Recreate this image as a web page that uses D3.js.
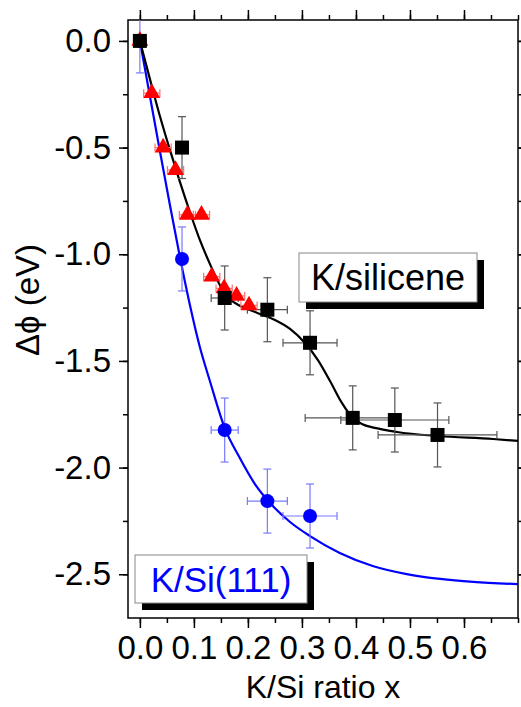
<!DOCTYPE html>
<html>
<head>
<meta charset="utf-8">
<script src="https://cdn.jsdelivr.net/npm/d3@7"></script>
<style>
  body { margin: 0; background: #fff; }
  text { font-family: "Liberation Sans", Arial, sans-serif; }
</style>
</head>
<body>
<div id="graph"></div>
<script>
// K/silicene (black squares)
const sil_x   = [0, 0.078, 0.157, 0.236, 0.315, 0.394, 0.472, 0.551];
const sil_y   = [0, -0.50, -1.205, -1.26, -1.415, -1.767, -1.777, -1.847];
const sil_xe  = [0, 0, 0.025, 0.037, 0.05, 0.088, 0.10, 0.11];
const sil_ye  = [0, 0.145, 0.15, 0.15, 0.15, 0.15, 0.15, 0.15];

// red triangles
const tri_x = [0, 0.022, 0.043, 0.066, 0.088, 0.114, 0.133, 0.156, 0.179, 0.202];
const tri_y = [0, -0.245, -0.50, -0.605, -0.815, -0.815, -1.105, -1.16, -1.195, -1.24];
const tri_xe = 0.015;

// K/Si(111) (blue circles)
const si_x  = [0, 0.078, 0.157, 0.236, 0.315];
const si_y  = [0, -1.022, -1.824, -2.157, -2.227];
const si_xe = [0, 0, 0.025, 0.037, 0.05];
const si_ye = [0.15, 0.15, 0.15, 0.15, 0.15];

// fit curves
const fitSil_x = [0, 0.0185, 0.037, 0.0556, 0.0741, 0.0926, 0.111, 0.1296, 0.148, 0.1667, 0.185, 0.2037,
                  0.222, 0.25, 0.278, 0.3056, 0.3296, 0.352, 0.374, 0.3926, 0.411, 0.435, 0.476, 0.552, 0.654, 0.70];
const fitSil_y = [0, -0.178, -0.352, -0.511, -0.661, -0.802, -0.933, -1.045, -1.144, -1.21, -1.242, -1.261,
                  -1.28, -1.308, -1.35, -1.416, -1.496, -1.594, -1.697, -1.763, -1.796, -1.814, -1.833, -1.852, -1.866, -1.875];
const fitSi_x = [0, 0.0185, 0.037, 0.0556, 0.0741, 0.0926, 0.111, 0.1296, 0.157, 0.185, 0.213, 0.241,
                 0.278, 0.315, 0.37, 0.431, 0.494, 0.556, 0.617, 0.70];
const fitSi_y = [0, -0.258, -0.516, -0.769, -1.013, -1.238, -1.435, -1.594, -1.814, -1.955, -2.077, -2.166,
                 -2.255, -2.321, -2.40, -2.461, -2.499, -2.522, -2.536, -2.546];

const xMajor = [0, 0.1, 0.2, 0.3, 0.4, 0.5, 0.6];
const yMajor = [0, -0.5, -1.0, -1.5, -2.0, -2.5];

const W = 521, H = 707;
const margin = {top: 20, right: 3, bottom: 89, left: 128};
const pw = W - margin.left - margin.right, ph = H - margin.top - margin.bottom;

let svg = d3.select("#graph").append("svg")
    .attr("width", W).attr("height", H)
    .append("g")
    .attr("transform", `translate(${margin.left}, ${margin.top})`);

let x = d3.scaleLinear().domain([-0.022, 0.70]).range([0, pw]);
let y = d3.scaleLinear().domain([0.098, -2.705]).range([0, ph]);

svg.append("clipPath").attr("id", "clip")
    .append("rect").attr("width", pw).attr("height", ph);

// axes
const xMinor = d3.range(0, 0.71, 0.05);
const yMinor = d3.range(0, -2.71, -0.25);
function fmt(d) { return d3.format(".1f")(d).replace("−", "-"); }

svg.append("g").attr("transform", `translate(0, ${ph})`)
    .call(d3.axisBottom(x).tickValues(xMinor).tickSize(5).tickFormat(""));
svg.append("g").attr("transform", `translate(0, ${ph})`)
    .call(d3.axisBottom(x).tickValues(xMajor).tickSize(10).tickPadding(8).tickFormat(fmt));
svg.append("g").call(d3.axisTop(x).tickValues(xMinor).tickSize(5).tickFormat(""));
svg.append("g").call(d3.axisTop(x).tickValues(xMajor).tickSize(10).tickFormat(""));

svg.append("g").call(d3.axisLeft(y).tickValues(yMinor).tickSize(5).tickFormat(""));
svg.append("g").call(d3.axisLeft(y).tickValues(yMajor).tickSize(9).tickPadding(8).tickFormat(fmt));
svg.append("g").attr("transform", `translate(${pw}, 0)`)
    .call(d3.axisRight(y).tickValues(yMinor).tickSize(5).tickFormat(""));
svg.append("g").attr("transform", `translate(${pw}, 0)`)
    .call(d3.axisRight(y).tickValues(yMajor).tickSize(9).tickFormat(""));

svg.selectAll(".domain").remove();
svg.selectAll(".tick line").attr("stroke", "#000").attr("stroke-width", 1.5);
svg.selectAll(".tick text").attr("fill", "#000").style("font-size", "33px")
    .style("font-family", "Liberation Sans, Arial, sans-serif");

svg.append("rect").attr("width", pw).attr("height", ph)
    .attr("fill", "none").attr("stroke", "#000").attr("stroke-width", 1.5);

// axis labels
svg.append("text")
    .attr("x", pw / 2).attr("y", ph + 80)
    .attr("text-anchor", "middle").style("font-size", "32px")
    .text("K/Si ratio x");
svg.append("text")
    .attr("transform", `translate(${27 - margin.left}, ${300 - margin.top}) rotate(-90)`)
    .attr("text-anchor", "middle").attr("dominant-baseline", "central")
    .style("font-size", "33px")
    .text("Δϕ (eV)");

let plot = svg.append("g").attr("clip-path", "url(#clip)");

// fit curves
const sil_fit = fitSil_x.map((v, i) => ({x: v, y: fitSil_y[i]}));
const si_fit = fitSi_x.map((v, i) => ({x: v, y: fitSi_y[i]}));
let line = d3.line().x(d => x(d.x)).y(d => y(d.y)).curve(d3.curveMonotoneX);

plot.append("path").datum(si_fit)
    .attr("fill", "none").attr("stroke", "#0000ff").attr("stroke-width", 2.2)
    .attr("d", line);
plot.append("path").datum(sil_fit)
    .attr("fill", "none").attr("stroke", "#000").attr("stroke-width", 2.2)
    .attr("d", line);

// error bars
function errorBars(data, color) {
    let g = plot.append("g").attr("stroke", color).attr("stroke-width", 1.2).attr("fill", "none");
    const cap = 4;
    data.forEach(function(d) {
        if (d.ye > 0) {
            g.append("line").attr("x1", x(d.x)).attr("x2", x(d.x))
                .attr("y1", y(d.y + d.ye)).attr("y2", y(d.y - d.ye));
            [d.y + d.ye, d.y - d.ye].forEach(v => g.append("line")
                .attr("x1", x(d.x) - cap).attr("x2", x(d.x) + cap)
                .attr("y1", y(v)).attr("y2", y(v)));
        }
        if (d.xe > 0) {
            g.append("line").attr("y1", y(d.y)).attr("y2", y(d.y))
                .attr("x1", x(d.x - d.xe)).attr("x2", x(d.x + d.xe));
            [d.x - d.xe, d.x + d.xe].forEach(v => g.append("line")
                .attr("y1", y(d.y) - cap).attr("y2", y(d.y) + cap)
                .attr("x1", x(v)).attr("x2", x(v)));
        }
    });
}

const sil = sil_x.map((v, i) => ({x: v, y: sil_y[i], xe: sil_xe[i], ye: sil_ye[i]}));
const tri = tri_x.map((v, i) => ({x: v, y: tri_y[i], xe: i === 0 ? 0 : tri_xe, ye: 0}));
const si = si_x.map((v, i) => ({x: v, y: si_y[i], xe: si_xe[i], ye: si_ye[i]}));

errorBars(si, "#7878ff");
errorBars(sil, "#555");
errorBars(tri, "#ff7070");

// markers
plot.selectAll("circle.si").data(si).enter().append("circle")
    .attr("cx", d => x(d.x)).attr("cy", d => y(d.y)).attr("r", 7)
    .attr("fill", "#0000ff");

plot.selectAll("path.tri").data(tri).enter().append("path")
    .attr("transform", d => `translate(${x(d.x)}, ${y(d.y)})`)
    .attr("d", d3.symbol().type(d3.symbolTriangle).size(125))
    .attr("fill", "#ff0000");

plot.selectAll("rect.sil").data(sil).enter().append("rect")
    .attr("x", d => x(d.x) - 7).attr("y", d => y(d.y) - 7)
    .attr("width", 14).attr("height", 14)
    .attr("fill", "#000");

// legend boxes with drop shadow
function labelBox(x0, y0, w, h, label, color, size) {
    let g = svg.append("g").attr("transform", `translate(${x0 - margin.left}, ${y0 - margin.top})`);
    g.append("rect").attr("x", 7).attr("y", 7).attr("width", w).attr("height", h).attr("fill", "#000");
    g.append("rect").attr("width", w).attr("height", h)
        .attr("fill", "#fff").attr("stroke", "#888").attr("stroke-width", 1);
    g.append("text").attr("x", w / 2).attr("y", h / 2 + size * 0.36)
        .attr("text-anchor", "middle").style("font-size", size + "px")
        .attr("fill", color).text(label);
}
labelBox(299, 253, 178, 49, "K/silicene", "#000", 36);
labelBox(135, 555, 172, 48, "K/Si(111)", "#0000ff", 35);
</script>
</body>
</html>
